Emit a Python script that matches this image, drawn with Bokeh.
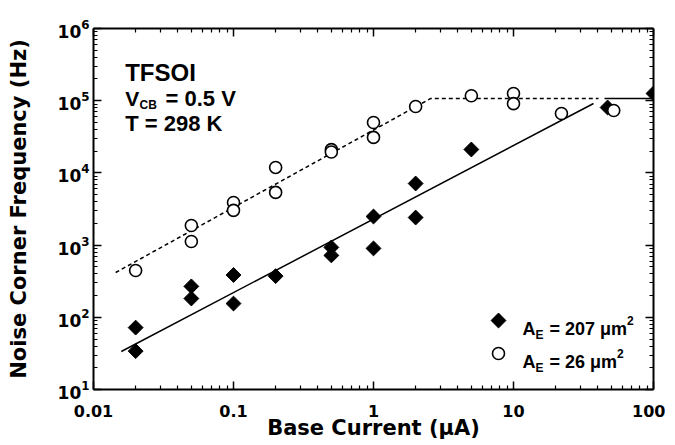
import math
from bokeh.plotting import figure
from bokeh.models import (LogAxis, FixedTicker, Label, Range1d, LinearScale,
                          ColumnDataSource)
from bokeh.embed import file_html
from bokeh.resources import INLINE

FONT = "DejaVu Sans"
NOTE_FONT = "Liberation Sans"

# ---- data ----
x_ticks = [0.01, 0.1, 1, 10, 100]
x_tick_labels = ["0.01", "0.1", "1", "10", "100"]
y_ticks = [1e1, 1e2, 1e3, 1e4, 1e5, 1e6]

# A_E = 207 um^2 (filled diamonds)
x_207 = [0.02, 0.02, 0.05, 0.05, 0.1, 0.1, 0.2, 0.5, 0.5, 1, 1, 2, 2, 5, 47, 100]
y_207 = [72, 34, 268, 182, 385, 155, 372, 930, 720, 2490, 900, 7130, 2410, 21100, 80500, 126000]

# A_E = 26 um^2 (open circles)
x_26 = [0.02, 0.05, 0.05, 0.1, 0.1, 0.2, 0.2, 0.5, 0.5, 1, 1, 2, 5, 10, 10, 22, 52]
y_26 = [445, 1870, 1120, 3890, 3030, 11900, 5370, 21000, 19500, 49900, 31000,
        83000, 117000, 126000, 91000, 66500, 73100]

# guide lines
fit207_x = [0.0158, 37.3]
fit207_y = [33.6, 91400]
sat207_x = [44.7, 100]
sat207_y = [107000, 107000]
fit26_x = [0.0144, 2.55, 40.5]
fit26_y = [417, 107000, 107000]

x_minor = [m * 10 ** k for k in range(-2, 2) for m in range(2, 10)]
y_minor = [m * 10 ** k for k in range(1, 6) for m in range(2, 10)]

FW, FH = 560, 361
p = figure(frame_width=FW, frame_height=FH,
           x_axis_type="log", y_axis_type="log",
           x_range=(0.01, 100), y_range=(10, 1e6),
           min_border_left=93, min_border_right=12,
           min_border_top=28, min_border_bottom=52,
           output_backend="svg", toolbar_location=None)
p.xgrid.visible = False
p.ygrid.visible = False
p.outline_line_color = None
p.background_fill_color = "white"
p.border_fill_color = "white"

# overlay (frame pixel) coordinate system for the legend swatches
p.extra_x_ranges = {"px": Range1d(0, FW)}
p.extra_y_ranges = {"py": Range1d(0, FH)}
p.extra_x_scales = {"px": LinearScale()}
p.extra_y_scales = {"py": LinearScale()}


def style_axis(ax):
    ax.axis_line_width = 2
    ax.axis_line_color = "black"
    ax.major_tick_in = 8
    ax.major_tick_out = 0
    ax.minor_tick_in = 4
    ax.minor_tick_out = 0
    ax.major_tick_line_width = 1.5
    ax.minor_tick_line_width = 1.2
    ax.major_tick_line_color = "black"
    ax.minor_tick_line_color = "black"
    ax.major_label_text_font = FONT
    ax.major_label_text_font_style = "bold"
    ax.major_label_text_color = "black"
    ax.axis_label_text_font = FONT
    ax.axis_label_text_font_style = "bold"
    ax.axis_label_text_color = "black"


xa = p.xaxis[0]
ya = p.yaxis[0]
xa.ticker = FixedTicker(ticks=x_ticks, minor_ticks=x_minor)
ya.ticker = FixedTicker(ticks=y_ticks, minor_ticks=y_minor)
style_axis(xa)
style_axis(ya)
xa.major_label_overrides = {t: lab for t, lab in zip(x_ticks, x_tick_labels)}
xa.major_label_text_font_size = "16px"
xa.major_label_standoff = 15
xa.axis_label = "Base Current (μA)"
xa.axis_label_text_font_size = "21px"
xa.axis_label_standoff = -4
ya.major_label_text_font_size = "17px"
ya.major_label_standoff = 4
ya.axis_label = "Noise Corner Frequency (Hz)"
ya.axis_label_text_font_size = "21px"
ya.axis_label_standoff = 24

top = LogAxis(ticker=FixedTicker(ticks=x_ticks, minor_ticks=x_minor))
right = LogAxis(ticker=FixedTicker(ticks=y_ticks, minor_ticks=y_minor))
for ax in (top, right):
    style_axis(ax)
    ax.major_label_text_font_size = "1px"
    ax.major_label_text_color = None
    ax.major_label_standoff = 0
p.add_layout(top, "above")
p.add_layout(right, "right")

# guide lines
p.line(fit207_x, fit207_y, line_color="black", line_width=1.5)
p.line(sat207_x, sat207_y, line_color="black", line_width=1.5)
p.line(fit26_x, fit26_y, line_color="black", line_width=1.5, line_dash="4 3")

# data points
DIAMOND = dict(marker="square", angle=math.pi / 4, size=10.5,
               fill_color="black", line_color="black")
CIRCLE = dict(marker="circle", size=12, fill_color="white",
              line_color="black", line_width=1.6)
src207 = ColumnDataSource(dict(x=x_207, y=y_207))
src26 = ColumnDataSource(dict(x=x_26, y=y_26))
p.scatter("x", "y", source=src207, **DIAMOND)
p.scatter("x", "y", source=src26, **CIRCLE)

# legend swatches (placed in frame-pixel overlay coordinates)
p.scatter([405], [69], x_range_name="px", y_range_name="py", **DIAMOND)
p.scatter([405], [36], x_range_name="px", y_range_name="py", **CIRCLE)


def txt(x, y, s, size, font=NOTE_FONT):
    p.add_layout(Label(x=x, y=y, x_units="screen", y_units="screen", text=s,
                       text_font=font, text_font_size=f"{size}px",
                       text_font_style="bold", text_color="black",
                       text_baseline="alphabetic", text_align="left"))


# annotation block
txt(31.7, 317, "TFSOI", 24)
txt(31.7, 291, "V", 21)
txt(46, 285, "CB", 12)
txt(72, 291, "= 0.5 V", 22)
txt(31.7, 266, "T = 298 K", 22)

# legend texts
txt(429, 61, "A", 18)
txt(442, 55, "E", 12)
txt(456, 61, "= 207 μm", 18)
txt(533.5, 69, "2", 12)
txt(429, 28, "A", 18)
txt(442, 22, "E", 12)
txt(456, 28, "= 26 μm", 18)
txt(523.5, 36, "2", 12)

open("out.html", "w").write(file_html(p, INLINE))
